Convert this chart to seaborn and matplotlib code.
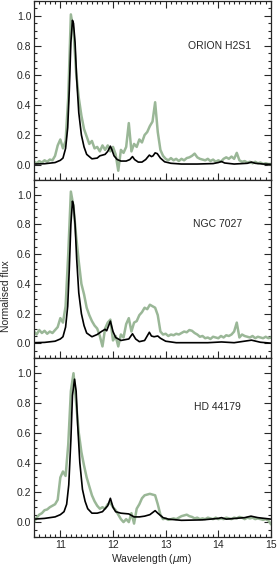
import numpy as np
import pandas as pd
import seaborn as sns
import matplotlib.pyplot as plt
from matplotlib.ticker import MultipleLocator

# sample grid of the observed spectra (0.05 micron steps)
wl_obs = np.round(np.arange(10.5, 15.001, 0.05), 2)

orion_obs = [
    0.02, 0.01, 0.025, 0.015, 0.03, 0.02, 0.035, 0.03, 0.06, 0.13,
    0.17, 0.11, 0.16, 0.45, 1.01, 0.90, 0.62, 0.45, 0.33, 0.24,
    0.19, 0.14, 0.16, 0.11, 0.12, 0.09, 0.13, 0.10, 0.13, 0.09,
    0.12, 0.07, -0.04, 0.10, 0.08, 0.12, 0.28, 0.09, 0.14, 0.12,
    0.17, 0.15, 0.20, 0.22, 0.26, 0.29, 0.42, 0.22, 0.10, 0.06,
    0.04, 0.03, 0.045, 0.03, 0.04, 0.025, 0.04, 0.03, 0.045, 0.05,
    0.06, 0.075, 0.05, 0.04, 0.035, 0.03, 0.04, 0.025, 0.035, 0.02,
    0.03, 0.02, 0.04, 0.05, 0.04, 0.055, 0.04, 0.08, 0.03, 0.02,
    0.025, 0.015, 0.02, 0.01, 0.02, 0.01, 0.015, 0.005, 0.01, 0.005,
    0.005,
]
ngc_obs = [
    0.08, 0.06, 0.09, 0.07, 0.085, 0.065, 0.08, 0.07, 0.09, 0.11,
    0.17, 0.14, 0.25, 0.60, 1.02, 0.92, 0.72, 0.55, 0.40, 0.33,
    0.24, 0.19, 0.15, 0.12, 0.10, 0.05, -0.02, 0.10, 0.14, 0.16,
    0.02, 0.05, -0.02, 0.06, 0.04, 0.13, 0.17, 0.08, 0.14, 0.15,
    0.19, 0.21, 0.24, 0.23, 0.26, 0.25, 0.24, 0.19, 0.08, 0.06,
    0.065, 0.05, 0.06, 0.055, 0.065, 0.06, 0.07, 0.08, 0.075, 0.09,
    0.085, 0.07, 0.06, 0.045, 0.05, 0.035, 0.04, 0.03, 0.045, 0.04,
    0.035, 0.05, 0.04, 0.055, 0.05, 0.06, 0.08, 0.14, 0.04, 0.06,
    0.05, 0.045, 0.04, 0.05, 0.035, 0.045, 0.04, 0.035, 0.045, 0.035,
    0.04,
]
hd_obs = [
    0.0, 0.03, 0.05, 0.06, 0.08, 0.085, 0.10, 0.11, 0.12, 0.15,
    0.30, 0.34, 0.31, 0.52, 0.88, 1.00, 0.80, 0.60, 0.47, 0.38,
    0.30, 0.24, 0.18, 0.14, 0.11, 0.09, 0.10, 0.09, 0.12, 0.13,
    0.10, 0.08, 0.05, 0.02, 0.0, 0.02, 0.0, 0.06, -0.01, 0.09,
    0.12, 0.16, 0.18, 0.185, 0.19, 0.185, 0.18, 0.12, 0.05, 0.02,
    0.025, 0.015, 0.02, 0.025, 0.02, 0.03, 0.04, 0.045, 0.05, 0.04,
    0.035, 0.025, 0.03, 0.02, 0.025, 0.02, 0.03, 0.025, 0.02, 0.03,
    0.02, 0.025, 0.02, 0.03, 0.025, 0.02, 0.03, 0.025, 0.035, 0.03,
    0.02, 0.03, 0.025, 0.03, 0.02, 0.025, 0.02, 0.015, 0.02, 0.01,
    -0.015,
]

# model fits (wavelength, flux)
orion_mod_wl = [10.5, 10.7, 10.9, 11.0, 11.05, 11.1, 11.14, 11.17, 11.2, 11.23,
                11.25, 11.28, 11.31, 11.35, 11.4, 11.45, 11.5, 11.6, 11.7, 11.75,
                11.8, 11.85, 11.9, 11.95, 11.98, 12.02, 12.08, 12.15, 12.25, 12.32,
                12.37, 12.41, 12.48, 12.55, 12.62, 12.69, 12.73, 12.76, 12.8, 12.84,
                12.9, 12.98, 13.1, 13.3, 13.6, 13.9, 14.0, 14.06, 14.12, 14.3,
                14.55, 14.63, 14.7, 14.85, 15.0]
orion_mod = [0.005, 0.007, 0.015, 0.03, 0.045, 0.11, 0.25, 0.5, 0.82, 0.97,
             0.95, 0.82, 0.58, 0.35, 0.2, 0.12, 0.07, 0.04, 0.045, 0.06,
             0.065, 0.07, 0.09, 0.125, 0.1, 0.06, 0.035, 0.025, 0.025, 0.035,
             0.055, 0.035, 0.018, 0.018, 0.035, 0.065, 0.055, 0.06, 0.08, 0.075,
             0.045, 0.02, 0.01, 0.005, 0.005, 0.008, 0.015, 0.022, 0.012, 0.005,
             0.01, 0.018, 0.01, 0.005, 0.003]

ngc_mod_wl = [10.5, 10.7, 10.9, 11.0, 11.05, 11.1, 11.14, 11.17, 11.2, 11.23,
              11.25, 11.28, 11.31, 11.35, 11.4, 11.45, 11.5, 11.6, 11.7, 11.78,
              11.85, 11.88, 11.95, 12.0, 12.05, 12.15, 12.3, 12.37, 12.43, 12.5,
              12.6, 12.69, 12.73, 12.78, 12.85, 12.9, 13.0, 13.2, 13.8, 14.06,
              14.3, 14.63, 14.8, 15.0]
ngc_mod = [0.005, 0.007, 0.015, 0.03, 0.045, 0.11, 0.25, 0.5, 0.8, 0.955,
           0.93, 0.8, 0.57, 0.34, 0.2, 0.12, 0.07, 0.045, 0.06, 0.08,
           0.095, 0.085, 0.15, 0.08, 0.04, 0.02, 0.03, 0.065, 0.03, 0.012,
           0.02, 0.075, 0.05, 0.045, 0.05, 0.035, 0.015, 0.005, 0.005, 0.01,
           0.005, 0.022, 0.008, 0.002]

hd_mod_wl = [10.5, 10.7, 10.9, 11.0, 11.07, 11.12, 11.16, 11.2, 11.23, 11.27,
             11.3, 11.33, 11.37, 11.42, 11.47, 11.52, 11.6, 11.7, 11.8, 11.85,
             11.9, 11.95, 12.0, 12.05, 12.15, 12.3, 12.4, 12.5, 12.6, 12.7,
             12.8, 12.85, 12.95, 13.05, 13.3, 13.7, 14.0, 14.06, 14.15, 14.5,
             14.62, 14.75, 15.0]
hd_mod = [0.02, 0.025, 0.035, 0.05, 0.07, 0.12, 0.25, 0.55, 0.85, 0.96,
          0.88, 0.65, 0.4, 0.22, 0.14, 0.09, 0.06, 0.06, 0.07, 0.09,
          0.11, 0.16, 0.1, 0.07, 0.06, 0.055, 0.035, 0.035, 0.04, 0.05,
          0.077, 0.06, 0.03, 0.02, 0.012, 0.015, 0.025, 0.03, 0.02, 0.03,
          0.04, 0.03, 0.02]

names = ["ORION H2S1", "NGC 7027", "HD 44179"]
obs = [orion_obs, ngc_obs, hd_obs]
models = [(orion_mod_wl, orion_mod), (ngc_mod_wl, ngc_mod), (hd_mod_wl, hd_mod)]
label_pos = [(13.43, 0.80), (13.51, 0.80), (13.53, 0.77)]

sns.set_style("ticks")
plt.rcParams['font.family'] = ['Liberation Sans', 'DejaVu Sans']
plt.rcParams['mathtext.fontset'] = 'custom'
plt.rcParams['mathtext.it'] = 'DejaVu Sans:italic'

fig, axes = plt.subplots(3, 1, figsize=(2.77, 5.66), dpi=100, sharex=True)
fig.subplots_adjust(left=34/277, right=271/277, top=1 - 1/566, bottom=1 - 537/566, hspace=0)

for i, ax in enumerate(axes):
    df_obs = pd.DataFrame({"wl": wl_obs, "flux": obs[i]})
    df_mod = pd.DataFrame({"wl": models[i][0], "flux": models[i][1]})
    sns.lineplot(data=df_obs, x="wl", y="flux", ax=ax, color="#9ab797",
                 lw=1.8, estimator=None, sort=False)
    sns.lineplot(data=df_mod, x="wl", y="flux", ax=ax, color="black",
                 lw=1.2, estimator=None, sort=False)
    ax.set_xlim(10.5, 15)
    ax.set_ylim(-0.1, 1.1)
    ax.set_xlabel("")
    ax.set_ylabel("")
    ax.yaxis.set_major_locator(MultipleLocator(0.2))
    ax.yaxis.set_minor_locator(MultipleLocator(0.05))
    ax.xaxis.set_major_locator(MultipleLocator(1))
    ax.xaxis.set_minor_locator(MultipleLocator(0.1))
    ax.tick_params(which="both", direction="in", right=True, top=(i == 0),
                   labelsize=7.5, width=0.8, pad=2)
    ax.tick_params(which="major", length=5)
    ax.tick_params(which="minor", length=2.5)
    for sp in ax.spines.values():
        sp.set_linewidth(0.9)
        sp.set_visible(True)
    ax.text(label_pos[i][0], label_pos[i][1], names[i], fontsize=7.5,
            va="center", ha="left")

fig.text(152/277, 1 - 559/566, "Wavelength ($\\mathit{\\mu}$m)", fontsize=7.5,
         ha="center", va="center")
fig.text(6/277, 270/566, "Normalised flux", rotation=90, fontsize=7.5,
         ha="center", va="center")

fig.savefig("out.png", dpi=100)
